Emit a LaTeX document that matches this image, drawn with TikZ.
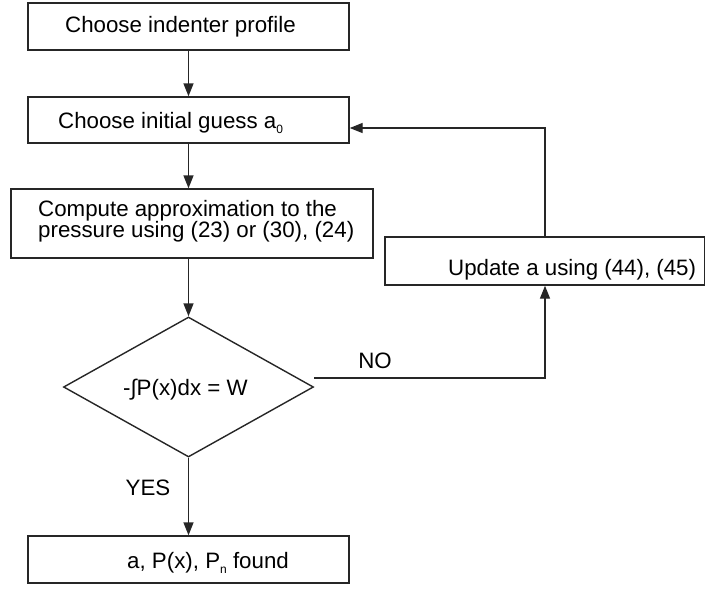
\documentclass[tikz,border=0pt]{standalone}
\usepackage{fontspec}
\setmainfont{Liberation Sans}
\usetikzlibrary{shapes.geometric,arrows.meta}
\newcommand{\lowsub}[1]{\raisebox{-5pt}{\fontsize{12}{12}\selectfont #1}}
\begin{document}
\begin{tikzpicture}[x=1pt,y=-1pt,
  box/.style={draw=black!85,line width=1.4pt,rectangle,inner sep=0pt},
  dia/.style={draw=black!85,line width=1.4pt,diamond,inner sep=0pt,minimum width=250pt,minimum height=140pt},
  txt/.style={inner sep=0pt,anchor=base west,font=\fontsize{22.3}{21}\selectfont},
  lbl/.style={inner sep=0pt,anchor=base,font=\fontsize{22.3}{21}\selectfont},
  conn/.style={draw=black!85,line width=1.4pt},
  arr/.style={conn,-{Triangle[length=13pt,width=10pt]}}]
\useasboundingbox (0,0) rectangle (705,590);
\node[box,minimum width=321pt,minimum height=47pt] (b1) at (188.5,26.5) {};
\node[box,minimum width=321pt,minimum height=46pt] (b2) at (188.5,120) {};
\node[box,minimum width=362pt,minimum height=69pt] (b3) at (192,223.5) {};
\node[box,minimum width=320pt,minimum height=48pt] (b4) at (545,261) {};
\node[dia] (d) at (188.5,387) {};
\node[box,minimum width=321pt,minimum height=47pt] (b5) at (188.5,559.5) {};
\node[txt] (t1) at (65,32) {Choose indenter profile};
\node[txt] (t2) at (58,128) {Choose initial guess a\lowsub{0}};
\node[txt,align=left] (t3) at (38,237) {Compute approximation to the\\pressure using (23) or (30), (24)};
\node[txt] (t4) at (448,275) {Update a using (44), (45)};
\node[txt] (t5) at (123,395) {-∫P(x)dx = W};
\node[txt] (t6) at (127,568) {a, P(x), P\lowsub{n} found};
\node[lbl] (no) at (375,368) {NO};
\node[lbl] (yes) at (148,495) {YES};
\coordinate (loop) at (545,128);
\coordinate (nostart) at (314,378);
\draw[arr] (b1.south) -- (b2.north);
\draw[arr] (b2.south) -- (b2.south |- b3.north);
\draw[arr] (b2.south |- b3.south) -- (d.north);
\draw[arr] (d.south) -- (b5.north);
\draw[arr] (b4.north) |- (b2.east |- loop);
\draw[arr] (nostart) -| (b4.south);
\end{tikzpicture}
\end{document}
